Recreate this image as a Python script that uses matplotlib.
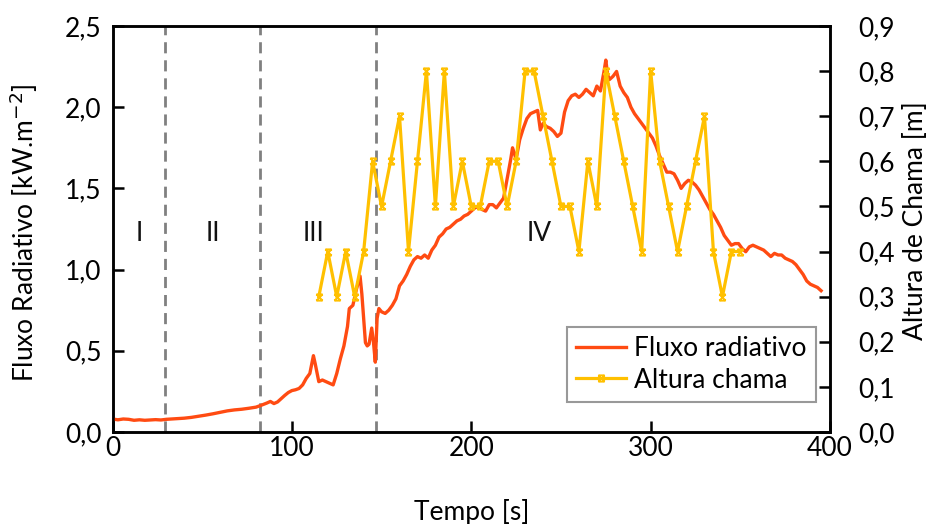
import matplotlib
matplotlib.use("Agg")
import matplotlib.pyplot as plt
from matplotlib.path import Path
from matplotlib.ticker import FuncFormatter, MultipleLocator

plt.rcParams['font.family'] = ['Lato', 'DejaVu Sans']

# Radiative heat flux [kW/m2] over time [s]
flux_time = [0, 3, 6, 9, 12, 15, 18, 21, 24, 27, 30, 33, 36, 40, 44, 48, 52, 56, 60, 64,
             68, 72, 76, 80, 83, 86, 88, 90, 92, 94, 96, 98, 100, 102, 104, 106, 108, 110,
             112, 113, 115, 117, 119, 121, 123, 125, 127, 129, 131, 132, 134, 136, 138, 139,
             141, 142, 143, 144.5, 145.5, 146.5, 147.5, 148.5, 150, 152, 154, 156, 158, 160,
             162, 164, 166, 168, 170, 172, 174, 176, 178, 180, 182, 184, 186, 188, 190, 192,
             194, 196, 198, 200, 202, 204, 206, 208, 210, 212, 214, 216, 218, 220, 222, 223,
             225, 227, 229, 231, 233, 235, 237, 238.5, 240, 242, 244, 246, 248, 250, 252, 254,
             256, 258, 260, 262, 264, 266, 268, 270, 272, 274, 275, 276, 277, 279, 281, 283,
             285, 287, 289, 291, 293, 295, 297, 299, 301, 303, 305, 307, 309, 311, 313, 315,
             317, 319, 321, 323, 325, 327, 329, 331, 333, 335, 337, 339, 341, 343, 345, 347,
             349, 351, 353, 355, 357, 359, 361, 363, 365, 367, 369, 371, 373, 375, 377, 379,
             381, 383, 385, 387, 389, 391, 393, 395]
flux_value = [0.08, 0.075, 0.08, 0.078, 0.072, 0.075, 0.072, 0.074, 0.076, 0.074, 0.078, 0.080,
              0.082, 0.085, 0.090, 0.097, 0.104, 0.112, 0.121, 0.130, 0.136, 0.140, 0.146, 0.153,
              0.165, 0.178, 0.188, 0.175, 0.185, 0.205, 0.225, 0.243, 0.255, 0.26, 0.268, 0.29,
              0.33, 0.36, 0.47, 0.42, 0.31, 0.32, 0.31, 0.30, 0.29, 0.36, 0.45, 0.53, 0.65, 0.76,
              0.78, 0.88, 0.96, 0.85, 0.55, 0.53, 0.54, 0.64, 0.55, 0.43, 0.70, 0.76, 0.74, 0.73,
              0.75, 0.78, 0.82, 0.90, 0.93, 0.97, 1.02, 1.06, 1.08, 1.07, 1.09, 1.07, 1.12, 1.15,
              1.20, 1.22, 1.25, 1.26, 1.28, 1.30, 1.31, 1.33, 1.34, 1.36, 1.38, 1.39, 1.37, 1.36,
              1.40, 1.40, 1.38, 1.41, 1.44, 1.56, 1.68, 1.75, 1.68, 1.80, 1.87, 1.93, 1.96, 1.97,
              1.98, 1.86, 1.90, 1.88, 1.87, 1.85, 1.82, 1.84, 1.97, 2.04, 2.07, 2.08, 2.06, 2.08,
              2.11, 2.09, 2.07, 2.13, 2.10, 2.22, 2.29, 2.20, 2.17, 2.19, 2.22, 2.13, 2.09, 2.06,
              2.00, 1.96, 1.93, 1.90, 1.87, 1.84, 1.81, 1.76, 1.70, 1.65, 1.60, 1.60, 1.59, 1.55,
              1.50, 1.53, 1.55, 1.54, 1.52, 1.49, 1.45, 1.41, 1.37, 1.34, 1.30, 1.26, 1.21, 1.18,
              1.15, 1.16, 1.16, 1.13, 1.11, 1.14, 1.15, 1.14, 1.13, 1.12, 1.10, 1.08, 1.10, 1.09,
              1.09, 1.07, 1.06, 1.05, 1.03, 1.00, 0.97, 0.93, 0.91, 0.90, 0.89, 0.87]

# Flame height [m], sampled every 5 s
flame_time = [115, 120, 125, 130, 135, 140, 145, 150, 155, 160, 165, 170, 175, 180, 185, 190,
              195, 200, 205, 210, 215, 220, 225, 230, 235, 240, 245, 250, 255, 260, 265, 270,
              275, 280, 285, 290, 295, 300, 305, 310, 315, 320, 325, 330, 335, 340, 345, 350]
flame_height = [0.3, 0.4, 0.3, 0.4, 0.3, 0.4, 0.6, 0.5, 0.6, 0.7, 0.4, 0.6, 0.8, 0.5, 0.8, 0.5,
                0.6, 0.5, 0.5, 0.6, 0.6, 0.5, 0.6, 0.8, 0.8, 0.7, 0.6, 0.5, 0.5, 0.4, 0.6, 0.5,
                0.8, 0.7, 0.6, 0.5, 0.4, 0.8, 0.6, 0.5, 0.4, 0.5, 0.6, 0.7, 0.4, 0.3, 0.4, 0.4]

# Phase boundaries [s] and phase labels
phase_bounds = [29, 82.5, 147]
phase_labels = ["I", "II", "III", "IV"]
phase_label_x = [15, 56, 112, 238]
phase_label_y = 1.22

RED = '#FF4B12'
GOLD = '#FFC000'
FS = 19

# star-like marker: an X with caps at top and bottom
star = Path([(-1, -1), (1, 1), (-1, 1), (1, -1), (-1, 1), (1, 1), (-1, -1), (1, -1)],
            [Path.MOVETO, Path.LINETO, Path.MOVETO, Path.LINETO,
             Path.MOVETO, Path.LINETO, Path.MOVETO, Path.LINETO])

fig = plt.figure(figsize=(9.36, 5.24), dpi=100)
ax = fig.add_axes([0.1202, 0.1756, 0.7666, 0.7748])
ax2 = ax.twinx()

for b in phase_bounds:
    ax.axvline(b, color='#808080', lw=2, ls=(0, (4, 2.5)), zorder=1)

l1, = ax.plot(flux_time, flux_value, color=RED, lw=2.4, zorder=3, label='Fluxo radiativo')
l2, = ax2.plot(flame_time, flame_height, color=GOLD, lw=2.3, marker=star, ms=4.5,
               mew=1.4, mec=GOLD, mfc=GOLD, label='Altura chama')

for lab, x in zip(phase_labels, phase_label_x):
    ax.text(x, phase_label_y, lab, fontsize=FS, ha='center', va='center', color='#111111')

ax.set_xlim(0, 400)
ax.set_ylim(0, 2.5)
ax2.set_ylim(0, 0.9)
ax.xaxis.set_major_locator(MultipleLocator(100))
ax.yaxis.set_major_locator(MultipleLocator(0.5))
ax2.yaxis.set_major_locator(MultipleLocator(0.1))

comma1 = FuncFormatter(lambda v, p: f"{v:.1f}".replace('.', ','))
ax.yaxis.set_major_formatter(comma1)
ax2.yaxis.set_major_formatter(comma1)

for a in (ax, ax2):
    for s in a.spines.values():
        s.set_linewidth(1.8)
        s.set_color('black')
    a.tick_params(direction='in', length=8, width=1.8, labelsize=FS, colors='black')
ax.tick_params(axis='x', pad=3)
ax.tick_params(axis='y', pad=8)
ax2.tick_params(axis='y', pad=20)

ax.set_xlabel('Tempo [s]', fontsize=FS)
ax.xaxis.set_label_coords(0.5, -0.165)
ax.set_ylabel('Fluxo Radiativo [kW.m$^{-2}$]', fontsize=FS)
ax.yaxis.set_label_coords(-0.101, 0.49)
ax2.set_ylabel('Altura de Chama [m]', fontsize=FS)
ax2.yaxis.set_label_coords(1.102, 0.52)

leg = ax2.legend([l1, l2], ['Fluxo radiativo', 'Altura chama'], loc='lower right',
                 bbox_to_anchor=(0.98, 0.074), fontsize=FS, frameon=True, fancybox=False,
                 edgecolor='#808080', handlelength=1.9, handletextpad=0.3,
                 borderpad=0.35, labelspacing=0.25, borderaxespad=0)
leg.get_frame().set_linewidth(1.5)

fig.savefig('out.png', dpi=100)
